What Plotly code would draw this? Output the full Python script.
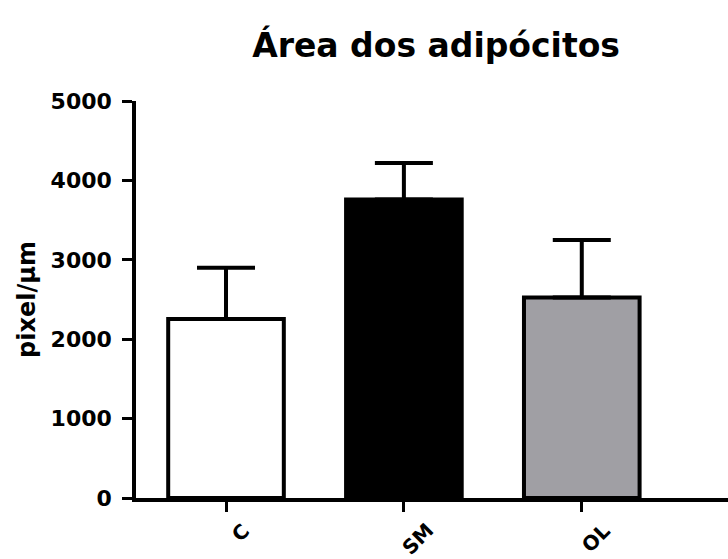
import plotly.graph_objects as go

categories = ["C", "SM", "OL"]
means = [2255, 3760, 2525]
errors_up = [645, 460, 725]
bar_colors = ["#ffffff", "#000000", "#a09fa4"]
y_ticks = [0, 1000, 2000, 3000, 4000, 5000]
title_text = "Área dos adipócitos"
y_title = "pixel/µm"

FONT = "DejaVu Sans"

fig = go.Figure()
fig.add_trace(go.Bar(
    x=list(range(len(categories))),
    y=means,
    width=0.65,
    marker=dict(color=bar_colors, line=dict(color="black", width=4)),
    error_y=dict(type="data", array=errors_up, arrayminus=[0] * len(means),
                 symmetric=False, color="black", thickness=4, width=29),
    showlegend=False,
))

for i, c in enumerate(categories):
    fig.add_annotation(
        x=i, y=0, xref="x", yref="paper", text=f"<b>{c}</b>", showarrow=False,
        textangle=-45, xanchor="center", yanchor="top", yshift=-18, xshift=14,
        font=dict(family=FONT, size=20, color="black"),
    )

fig.update_layout(
    width=728, height=559,
    margin=dict(l=136, r=0, t=101, b=61),
    paper_bgcolor="white", plot_bgcolor="white",
    title=dict(text=f"<b>{title_text}</b>", x=0.599, xref="container", xanchor="center",
               y=1 - 45 / 559, yref="container", yanchor="middle",
               font=dict(family=FONT, size=33, color="black")),
    font=dict(family=FONT, color="black"),
)
fig.update_xaxes(
    range=[-0.506, 2.822], showgrid=False, zeroline=False,
    showline=True, linecolor="black", linewidth=3.5,
    ticks="outside", ticklen=10, tickwidth=3, tickcolor="black",
    tickvals=list(range(len(categories))), showticklabels=False,
)
fig.update_yaxes(
    range=[0, 5000], tickvals=y_ticks, ticktext=[f"<b>{v}</b>" for v in y_ticks],
    showgrid=False, zeroline=False,
    showline=True, linecolor="black", linewidth=3.5,
    ticks="outside", ticklen=10, tickwidth=3, tickcolor="black",
    ticklabelstandoff=6,
    tickfont=dict(family=FONT, size=22, color="black"),
    title=dict(text=f"<b>{y_title}</b>", standoff=9,
               font=dict(family=FONT, size=24, color="black")),
)

fig.write_html("out.html")
